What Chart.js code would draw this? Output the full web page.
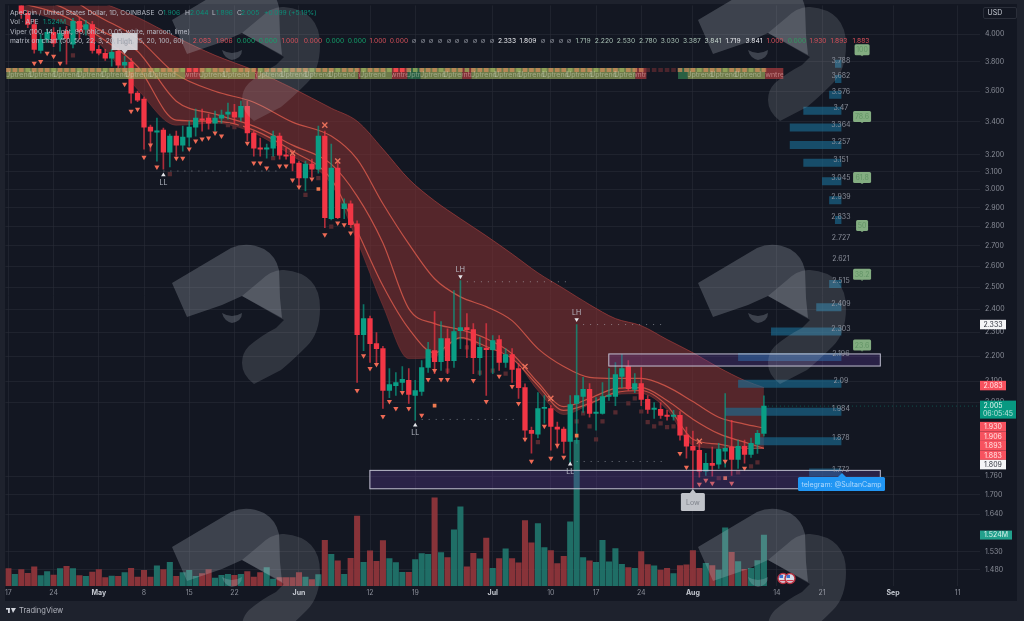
<!DOCTYPE html>
<html><head><meta charset="utf-8">
<style>html,body{margin:0;padding:0;background:#1e222d;overflow:hidden}canvas{display:block;filter:blur(0.45px)}</style>
<script src="https://cdn.jsdelivr.net/npm/chart.js@4/dist/chart.umd.min.js"></script>
</head><body><canvas id="c" width="1024" height="621"></canvas>
<script>
const candleOpen=[4.36,4.30,4.222,4.159,4.074,3.883,3.963,4.015,3.963,4.022,3.927,4.097,4.037,4.074,3.890,3.862,3.826,3.876,3.777,3.797,3.586,3.546,3.367,3.336,3.348,3.214,3.311,3.256,3.305,3.367,3.417,3.423,3.392,3.423,3.449,3.462,3.430,3.500,3.330,3.238,3.232,3.238,3.311,3.196,3.190,3.149,3.063,3.143,3.114,3.311,2.840,3.120,2.893,2.920,2.813,2.290,2.359,2.252,2.231,2.064,2.083,2.095,2.103,2.045,2.060,2.154,2.223,2.178,2.273,2.182,2.307,2.320,2.311,2.194,2.231,2.227,2.269,2.174,2.206,2.150,2.075,1.917,1.903,1.996,1.996,1.928,1.921,1.878,2.015,2.041,2.068,1.978,1.978,2.041,2.041,2.119,2.158,2.068,2.091,2.030,1.993,1.993,1.971,1.967,1.971,1.900,1.861,1.847,1.777,1.803,1.800,1.844,1.858,1.816,1.861,1.833,1.868,1.906];
const candleClose=[4.31,4.34,4.159,4.074,3.890,3.963,4.015,3.934,4.007,3.970,4.097,4.022,4.074,3.883,3.862,3.826,3.869,3.777,3.797,3.586,3.540,3.367,3.342,3.342,3.214,3.311,3.256,3.305,3.367,3.423,3.410,3.392,3.423,3.443,3.462,3.430,3.500,3.330,3.238,3.232,3.238,3.311,3.196,3.190,3.149,3.063,3.143,3.114,3.311,2.845,3.120,2.845,2.920,2.808,2.290,2.359,2.252,2.231,2.064,2.087,2.095,2.107,2.049,2.064,2.154,2.227,2.178,2.273,2.182,2.303,2.320,2.311,2.194,2.236,2.227,2.265,2.174,2.206,2.146,2.075,1.917,1.906,1.996,2.000,1.931,1.921,1.878,2.011,2.045,2.068,1.978,1.982,2.041,2.045,2.126,2.150,2.071,2.091,2.030,1.993,1.996,1.971,1.967,1.971,1.900,1.861,1.847,1.777,1.803,1.796,1.851,1.854,1.816,1.861,1.833,1.871,1.906,2.005];
const candleHigh=[4.41,4.38,4.26,4.18,4.112,4.000,4.04,4.05,4.052,4.06,4.12,4.128,4.105,4.097,3.92,3.89,3.89,3.90,3.840,3.826,3.60,3.560,3.38,3.423,3.361,3.323,3.342,3.373,3.404,3.481,3.481,3.449,3.468,3.475,3.520,3.513,3.533,3.533,3.342,3.299,3.262,3.342,3.330,3.238,3.220,3.161,3.161,3.172,3.373,3.342,3.262,3.167,2.947,2.936,2.829,2.421,2.37,2.298,2.24,2.150,2.134,2.158,2.150,2.103,2.182,2.257,2.390,2.346,2.315,2.485,2.531,2.381,2.337,2.277,2.337,2.286,2.286,2.231,2.231,2.170,2.09,1.928,2.056,2.045,2.007,1.946,1.928,2.045,2.333,2.115,2.091,2.037,2.095,2.150,2.174,2.206,2.182,2.130,2.154,2.045,2.018,2.018,1.989,1.989,1.985,1.928,1.914,1.875,1.837,1.858,1.871,2.052,1.953,1.882,1.882,1.889,1.917,2.044];
const candleLow=[4.30,4.27,4.12,4.05,3.862,3.862,3.94,3.91,3.876,3.784,3.90,3.963,3.993,3.862,3.85,3.81,3.770,3.76,3.735,3.520,3.53,3.232,3.220,3.161,3.114,3.126,3.190,3.220,3.250,3.311,3.342,3.354,3.342,3.392,3.417,3.392,3.404,3.281,3.190,3.190,3.178,3.190,3.172,3.172,3.103,3.018,2.990,3.069,3.091,2.793,2.834,2.840,2.840,2.793,2.095,2.223,2.174,2.170,1.996,2.037,2.045,2.064,2.015,1.953,2.045,2.134,2.130,2.142,2.130,2.154,2.231,2.194,2.130,2.123,2.045,2.130,2.142,2.154,2.095,2.034,1.882,1.837,1.89,1.942,1.847,1.854,1.837,1.806,1.871,1.982,1.964,1.917,1.975,2.026,2.007,2.075,2.064,2.056,2.007,1.978,1.960,1.960,1.953,1.953,1.882,1.820,1.721,1.757,1.763,1.760,1.786,1.790,1.763,1.786,1.803,1.823,1.836,1.896];
const volumes=[.52,.35,.49,.38,.57,.31,.43,.33,.52,.59,.52,.31,.29,.42,.49,.25,.30,.29,.40,.53,.27,.47,.27,.60,.49,.71,.29,.40,.47,.29,.37,.49,.24,.32,.35,.32,.35,.43,.27,.40,.55,.21,.25,.25,.25,.40,.27,.19,.34,1.37,.95,.75,.35,.83,2.09,.71,1.05,.74,1.36,.82,.70,.41,.41,.79,.97,.95,2.64,1.0,.85,1.68,2.37,.57,.98,.81,1.43,.53,.82,1.11,.82,.69,1.96,1.29,1.87,1.15,1.06,.67,.89,1.92,4.36,.85,.75,.71,1.37,.72,1.12,.65,.55,.53,1.03,.64,.60,.48,.53,.37,.61,.63,1.06,.53,.68,.61,.48,1.74,1.01,.73,.50,.53,.76,1.524];

const ribbonDays=[2,8,14,20,26,32,38,44,50,54,58,62,66,70,74,78,82,86,90,94,98,102,106,110,114,117];
const ribbonUpper=[4.495,4.364,4.252,4.128,3.978,3.847,3.742,3.619,3.487,3.404,3.232,3.057,2.936,2.840,2.751,2.660,2.568,2.494,2.421,2.359,2.328,2.269,2.214,2.154,2.103,2.075];
const ribbonA=[4.396,4.316,4.135,3.970,3.714,3.599,3.526,3.398,3.311,3.172,2.920,2.710,2.540,2.456,2.412,2.350,2.231,2.158,2.115,2.111,2.111,2.079,2.022,1.964,1.939,1.925];
const ribbonB=[4.292,4.213,4.037,3.876,3.533,3.449,3.373,3.256,3.143,2.962,2.715,2.403,2.337,2.311,2.273,2.210,2.095,2.003,2.034,2.071,2.075,2.026,1.957,1.905,1.875,1.854];
const ribbonC=[4.236,4.151,3.985,3.768,3.411,3.404,3.348,3.220,3.057,2.777,2.507,2.315,2.214,2.277,2.240,2.190,2.083,1.989,2.015,2.056,2.064,2.007,1.885,1.868,1.854,1.854];
const ribbonLower=[4.190,4.097,3.934,3.612,3.379,3.392,3.330,3.190,3.029,2.726,2.416,2.190,2.198,2.273,2.231,2.198,2.064,1.974,2.011,2.049,2.052,1.992,1.864,1.854,1.861,1.854];

const triDays=[4,5,6,7,8,18,19,20,21,22,23,26,27,28,29,30,31,32,33,37,38,39,40,42,43,44,45,47,49,51,52,53,54,55,56,57,58,59,60,61,62,64,65,66,67,68,72,74,76,78,79,80,81,83,84,85,86,104,105,107,108,109,111,112,114];
const triPrices=[3.791,3.804,3.862,3.840,3.791,3.646,3.468,3.481,3.184,3.256,3.126,3.178,3.178,3.232,3.281,3.293,3.299,3.330,3.311,3.268,3.149,3.149,3.120,3.132,3.132,3.052,3.012,3.057,2.756,2.818,2.808,2.766,2.064,2.202,2.150,2.166,1.967,2.022,1.996,2.056,1.996,1.971,2.107,2.142,2.107,2.107,2.103,2.022,2.119,2.079,2.015,1.885,1.810,1.931,1.820,1.864,1.823,1.836,1.790,1.734,1.747,1.737,1.810,1.737,1.786];
const squareDays=[10,25,34,35,36,41,46,48,50,68,71,73,75,77,82,88,89,90,91,92,94,96,97,98,99,100,101,102,103,110,113,115,116];
const squarePrices=[3.847,3.085,3.379,3.367,3.379,3.178,2.968,3.063,2.798,2.142,2.236,2.134,2.142,2.130,1.875,1.949,1.978,1.931,1.885,1.949,1.982,2.015,2.034,1.985,1.946,1.931,1.942,1.928,1.931,1.754,1.773,1.793,1.806];
const flagDays=[48,66,88,111];
const flagPrices=[3.001,2.007,1.898,1.754];
const crossDays=[44,49,51,80,84,107];
const crossPrices=[3.208,3.379,3.161,2.158,2.034,1.878];

const levelPrices=[3.788,3.682,3.576,3.47,3.364,3.257,3.151,3.045,2.939,2.833,2.727,2.621,2.515,2.409,2.303,2.196,2.09,1.984,1.878,1.772];
const levelStartDays=[128,128,127.1,123.1,121,121,123.1,126,127.1,128,null,null,127.1,125.1,118.1,113,113,111,116.1,124];
const levelEndDay=129;

const pivotDays=[24,63,87,70,88];
const pivotArrowPrices=[3.08,1.935,1.80,2.55,2.355];
const pivotLabels=['LL','LL','LL','LH','LH'];
const pivotDir=['up','up','up','down','down'];
const dotLineDays=[[24,42],[71,87],[64,79],[89,102],[88,102]];
const dotLinePrices=[3.103,2.526,1.956,2.333,1.809];

const fibLabels=['100','78.6','61.8','50','38.2','23.6'];
const fibPrices=[3.84,3.392,3.029,2.771,2.531,2.219];
const fibDay=132.2;

const boxDays=[[92.9,135.1],[55.9,135.1]];
const boxPrices=[[2.211,2.158],[1.781,1.718]];

const priceTicks=[4,3.8,3.6,3.4,3.2,3.1,3,2.9,2.8,2.7,2.6,2.5,2.4,2.3,2.2,2.1,2.02,1.76,1.7,1.64,1.53,1.48];
const timeTickDays=[0,7,14,21,28,35,45,56,63,75,84,91,98,106,119,126,137,147];
const timeTickLabels=['17','24','May','8','15','22','Jun','12','19','Jul','10','17','24','Aug','14','21','Sep','11'];
const monthTicks=['May','Jun','Jul','Aug','Sep'];

const tagValues=[2.333,2.083,2.005,1.93,1.906,1.893,1.883,1.809];
const tagKinds=['w','r','g','r','r','r','r','w'];
const trendStart=[-0.3,27.4,29.7,38.2,38.6,54.2,54.5,59.4,61.8,63.8,70.3,71.7,97.1,103.7,105.2,117.2];
const trendEnd=[27.4,29.7,38.2,38.6,54.2,54.5,59.4,61.8,63.8,70.3,71.7,97.1,98.8,105.2,117.2,120];
const trendKinds=['u','d','u','d','u','d','u','d','g','u','d','u','d','g','u','d'];

const header1=[['ApeCoin / United States Dollar, 1D, COINBASE',10,'#b8bcc6'],['O',158,'#b8bcc6'],['1.906',163,'#0b8f79'],['H',185,'#b8bcc6'],['2.044',190,'#0b8f79'],['L',212,'#b8bcc6'],['1.896',216,'#0b8f79'],['C',237,'#b8bcc6'],['2.005',241,'#0b8f79'],['+0.099 (+5.19%)',264,'#0b8f79']];
const header2=[['Vol · APE',10,'#b8bcc6'],['1.524M',43,'#0b8f79']];
const header3='Viper (100, 14, right, 90, ohlc4, 0.05, white, maroon, lime)';
const header4='matrix on chart (50, 50, 22, 3, 20, High, 15, 20, 100, 60)';
const indicatorValues=['2.083','1.906','0.000','0.000','1.000','0.000','0.000','0.000','1.000','0.000','∅','∅','∅','∅','∅','∅','∅','∅','∅','∅','2.333','1.809','∅','∅','∅','∅','1.719','2.220','2.530','2.780','3.030','3.387','3.841','1.719','3.841','1.000','0.000','1.930','1.893','1.883'];
const indicatorX=[202,224,246,268,290,313,335,357,378,399,414,423,431,440,449,457,466,475,483,492,507,528,543,552,561,569,583,604,626,648,670,692,713,733,754,775,797,818,839,861];
const indicatorColors=['#d8505a','#d8505a','#12a36b','#12a36b','#d8505a','#d8505a','#12a36b','#12a36b','#d8505a','#d8505a','#8a8e98','#8a8e98','#8a8e98','#8a8e98','#8a8e98','#8a8e98','#8a8e98','#8a8e98','#8a8e98','#8a8e98','#e8eaee','#e8eaee','#8a8e98','#8a8e98','#8a8e98','#8a8e98','#a8c0b4','#a8c0b4','#a8c0b4','#a8c0b4','#a8c0b4','#a8c0b4','#c4d4cc','#e8eaee','#e8eaee','#d8505a','#2e9c5e','#d8505a','#d8505a','#d8505a'];

const FONT='Inter, "Liberation Sans", sans-serif';
const FS=7;
const days=candleOpen.map((_,i)=>i);
const UP='#0a9e85',DN='#f23645';
const isUp=i=>candleClose[i]>=candleOpen[i];
const pts=(xs,ys)=>xs.map((x,i)=>({x,y:ys[i]}));
const levelData=[];
levelPrices.forEach((p,i)=>{if(levelStartDays[i]!==null){levelData.push({x:levelStartDays[i],y:p},{x:levelEndDay,y:p},{x:levelEndDay,y:null});}});
const dotData=[];
dotLinePrices.forEach((p,i)=>{dotData.push({x:dotLineDays[i][0],y:p},{x:dotLineDays[i][1],y:p},{x:dotLineDays[i][1],y:null});});

const ribbonLine=(data,color,width,order,extra)=>Object.assign({type:'line',data,borderColor:color,borderWidth:width,pointRadius:0,cubicInterpolationMode:'monotone',fill:false,order,xAxisID:'x',yAxisID:'y'},extra||{});
const scatter=(data,o)=>Object.assign({type:'line',data,showLine:false,xAxisID:'x',yAxisID:'y',order:3,fill:false},o);

const datasets=[
 {type:'bar',label:'Vol',data:pts(days,volumes),yAxisID:'v',xAxisID:'x',grouped:false,barThickness:5.4,backgroundColor:days.map(i=>isUp(i)?'rgba(33,118,108,0.92)':'rgba(146,54,60,0.92)'),order:40},
 ribbonLine(pts(ribbonDays,ribbonUpper),'rgba(190,70,65,0.55)',1,30,{fill:{target:5},backgroundColor:'rgba(132,50,50,0.58)'}),
 ribbonLine(pts(ribbonDays,ribbonA),'rgba(214,88,74,0.85)',1.2,29),
 ribbonLine(pts(ribbonDays,ribbonB),'rgba(214,88,74,0.85)',1.2,29),
 ribbonLine(pts(ribbonDays,ribbonC),'rgba(214,88,74,0.85)',1.2,29),
 ribbonLine(pts(ribbonDays,ribbonLower),'rgba(190,70,65,0.35)',1,30),
 {type:'line',data:levelData,borderColor:'rgba(26,112,150,0.62)',borderWidth:8,pointRadius:0,fill:false,order:20,xAxisID:'x',yAxisID:'y'},
 {type:'line',data:dotData,borderColor:'rgba(190,194,204,0.55)',borderWidth:1,borderDash:[1,6],pointRadius:0,fill:false,order:19,xAxisID:'x',yAxisID:'y'},
 {type:'line',data:[{x:117,y:2.005},{x:150.4,y:2.005}],borderColor:'rgba(10,158,133,0.45)',borderWidth:1,borderDash:[1,3],pointRadius:0,fill:false,order:19,xAxisID:'x',yAxisID:'y'},
 {type:'bar',label:'wick',data:days.map(i=>({x:i,y:[candleLow[i],candleHigh[i]]})),grouped:false,barThickness:1,minBarLength:1,backgroundColor:days.map(i=>isUp(i)?'rgba(10,158,133,0.7)':'rgba(242,54,69,0.7)'),order:6,xAxisID:'x',yAxisID:'y'},
 {type:'bar',label:'body',data:days.map(i=>({x:i,y:[candleOpen[i],candleClose[i]]})),grouped:false,barThickness:4.6,minBarLength:1.3,backgroundColor:days.map(i=>isUp(i)?UP:DN),order:5,xAxisID:'x',yAxisID:'y'},
 scatter(pts(squareDays,squarePrices),{pointStyle:'rect',pointRadius:3,pointBackgroundColor:'rgb(84,42,48)',pointBorderWidth:0,order:8}),
 scatter(pts(triDays,triPrices),{pointStyle:'triangle',pointRotation:180,pointRadius:3,pointBackgroundColor:'#ee6a55',pointBorderWidth:0}),
 scatter(pts(flagDays,flagPrices),{pointStyle:'rect',pointRadius:2.6,pointBackgroundColor:'#ee7a50',pointBorderWidth:0}),
 scatter(pts(crossDays,crossPrices),{pointStyle:'crossRot',pointRadius:3.6,pointBorderColor:'#e9705a',pointBorderWidth:1.4}),
 scatter(pts(pivotDays,pivotArrowPrices),{pointStyle:'triangle',pointRotation:pivotDir.map(d=>d==='down'?180:0),pointRadius:2.6,pointBackgroundColor:'#e6e8ec',pointBorderWidth:0,order:2})
];

function roundBox(ctx,x,y,w,h,r){ctx.beginPath();ctx.roundRect(x,y,w,h,r);}
function watermark(ctx,cx,cy){
 ctx.save();ctx.translate(cx,cy);
 ctx.fillStyle='rgba(205,210,220,0.23)';
 ctx.beginPath();ctx.moveTo(0,0);ctx.lineTo(59,-35);ctx.quadraticCurveTo(75,-42,92,-34);ctx.quadraticCurveTo(104,-27,107,-13);ctx.lineTo(108,15);ctx.lineTo(110,35);ctx.lineTo(70,13);ctx.lineTo(50,22);ctx.lineTo(15,34);ctx.closePath();ctx.fill();
 ctx.beginPath();ctx.moveTo(50,30);ctx.quadraticCurveTo(60,36,70,30);ctx.quadraticCurveTo(70,38,60,40);ctx.quadraticCurveTo(52,38,50,30);ctx.fill();
 ctx.fillStyle='rgba(205,210,220,0.16)';
 ctx.beginPath();ctx.moveTo(88,-2);ctx.quadraticCurveTo(100,-14,112,-13);ctx.quadraticCurveTo(148,-10,148,25);ctx.quadraticCurveTo(148,50,135,63);ctx.quadraticCurveTo(120,78,109,87);ctx.lineTo(82,101);ctx.quadraticCurveTo(70,92,70,80);ctx.quadraticCurveTo(70,70,77,63);ctx.quadraticCurveTo(90,52,104,45);ctx.lineTo(112,37);ctx.lineTo(70,13);ctx.closePath();ctx.fill();
 ctx.restore();
}
const overlay={id:'overlay',
 beforeDraw(chart){
  const c=chart.ctx;c.save();c.fillStyle='#1e222d';c.fillRect(0,0,1024,621);c.fillStyle='#131722';c.fillRect(5,4,1012,597);c.restore();
 },
 afterDatasetsDraw(chart){
  const c=chart.ctx,X=chart.scales.x,Y=chart.scales.y,V=chart.scales.v;
  const px=d=>X.getPixelForValue(d),py=p=>Y.getPixelForValue(p);
  c.save();
  boxDays.forEach((b,i)=>{const x0=px(b[0]),x1=px(b[1]),y0=py(boxPrices[i][0]),y1=py(boxPrices[i][1]);
   c.fillStyle='rgba(104,66,170,0.28)';c.fillRect(x0,y0,x1-x0,y1-y0);
   c.strokeStyle='rgba(214,216,226,0.85)';c.lineWidth=1;c.strokeRect(x0+.5,y0+.5,x1-x0-1,y1-y0-1);});
  const bandTop=68,bandH=11;
  const fill={u:'rgba(158,176,96,0.66)',d:'rgba(170,60,62,0.72)',g:'rgba(50,125,80,0.72)'};
  c.font=FS+'px '+FONT;c.textAlign='center';c.textBaseline='middle';
  trendKinds.forEach((k,i)=>{const x0=px(trendStart[i]),x1=px(trendEnd[i]);
   c.fillStyle=fill[k];c.fillRect(x0,bandTop,x1-x0,bandH);});
  for(let d=0;d<118;d++){
   if(d>98&&d<104){c.fillStyle='rgba(120,48,52,0.55)';}
   else if(d===28||d===29||d===60||d===61){c.fillStyle='#f0454a';}
   else c.fillStyle=(d%4===3)?'rgba(150,170,90,0.8)':'rgba(210,140,90,0.72)';
   c.fillRect(px(d)-2.3,bandTop,4.6,4);
  }
  trendKinds.forEach((k,i)=>{const x0=px(trendStart[i]),x1=px(trendEnd[i]);
   c.save();c.beginPath();c.rect(x0,bandTop,x1-x0,bandH);c.clip();
   c.fillStyle=k==='d'?'rgba(240,190,190,0.55)':'rgba(232,236,215,0.42)';
   const txt=k==='d'?'Downtrend':'Uptrend';
   if(k==='d'){c.fillText(txt,(x0+x1)/2,bandTop+6.5);}
   else for(let x=x0+12;x<x1;x+=24)c.fillText(txt,x,bandTop+6.5);
   c.restore();});
  [[172,20],[698,20],[172,283],[698,283],[172,547],[698,547]].forEach(w=>watermark(c,w[0],w[1]));
  c.font=FS+'px '+FONT;c.textAlign='center';c.textBaseline='alphabetic';
  c.fillStyle='rgba(150,154,165,0.9)';
  levelPrices.forEach(p=>c.fillText(String(p),px(levelEndDay)-0.5,py(p)-1));
  fibLabels.forEach((t,i)=>{const cx=px(fibDay),tip=py(fibPrices[i]);const w=t.length>3?18:(t.length>2?15:12);
   c.fillStyle='rgba(156,206,150,0.82)';roundBox(c,cx-w/2,tip-12,w,11,1.5);c.fill();
   c.beginPath();c.moveTo(cx-1.5,tip-1);c.lineTo(cx+1.5,tip-1);c.lineTo(cx,tip);c.fill();
   c.fillStyle='rgba(96,146,100,0.95)';c.textAlign='center';c.fillText(t,cx,tip-4);});
  c.fillStyle='rgba(190,194,204,0.95)';
  pivotLabels.forEach((t,i)=>{const dy=pivotDir[i]==='up'?10:-4.5;c.fillText(t,px(pivotDays[i]),py(pivotArrowPrices[i])+dy);});
  const hx=px(18),hy=50;
  c.fillStyle='rgba(218,220,226,0.92)';c.fillRect(hx-13,33,26,17);
  c.beginPath();c.moveTo(hx-3,hy);c.lineTo(hx+3,hy);c.lineTo(hx,hy+4);c.fill();
  c.fillStyle='#8f939c';c.fillText('High',hx,44);
  const lx=px(106);
  c.fillStyle='rgba(212,214,220,0.9)';roundBox(c,lx-12,493,24,18,1.5);c.fill();
  c.beginPath();c.moveTo(lx-3,493);c.lineTo(lx+3,493);c.lineTo(lx,489);c.fill();
  c.fillStyle='#7d818a';c.fillText('Low',lx,505);
  c.fillStyle='#2196f3';roundBox(c,798,477,87,14,1.5);c.fill();
  c.beginPath();c.moveTo(838,477);c.lineTo(846,477);c.lineTo(842,473);c.fill();
  c.fillStyle='rgba(225,240,255,0.72)';c.fillText('telegram: @SultanCamp',841.5,486.5);
  [783,790].forEach(x=>{c.beginPath();c.arc(x,578.5,5,0,Math.PI*2);c.fillStyle='#d8dce6';c.fill();c.lineWidth=1.4;c.strokeStyle='#b83040';c.stroke();c.fillStyle='#3b6fd0';c.fillRect(x-3.5,575,3.5,3);c.fillStyle='#d04050';c.fillRect(x-3.5,580,7,1.2);});
  c.textAlign='center';c.textBaseline='middle';
  let last=-100;
  tagValues.forEach((v,i)=>{const k=tagKinds[i];let y=py(v);
   if(k==='g'){c.fillStyle='#089981';c.fillRect(980,y-5.5,36,18);c.fillStyle='#e6f5f1';c.fillText(v.toFixed(3),993,y-0.5);c.fillStyle='rgba(220,240,235,0.85)';c.fillText('06:05:45',998,y+7.5);last=y+12.5;return;}
   if(y-4.75<last)y=last+4.75;
   c.fillStyle=k==='w'?'#f4f5f7':'#f7525f';c.fillRect(980,y-4.75,26,9.5);
   c.fillStyle=k==='w'?'#30343e':'#ffe6e6';c.fillText(v.toFixed(3),993,y+.3);last=y+4.75;});
  const vy=V.getPixelForValue(volumes[volumes.length-1]);
  c.fillStyle='#22a08c';c.fillRect(980,vy-4.5,32,9);c.fillStyle='#d9f2ec';c.fillText('1.524M',996,vy+.3);
  c.strokeStyle='#2a2e39';c.lineWidth=1;roundBox(c,983.5,7.5,33,11,1.5);c.stroke();
  c.fillStyle='#c8ccd4';c.fillText('USD',995,13.3);
  c.font='6.7px '+FONT;c.textBaseline='middle';c.textAlign='left';
  header1.forEach(h=>{c.fillStyle=h[2];c.fillText(h[0],h[1],12.7);});
  header2.forEach(h=>{c.fillStyle=h[2];c.fillText(h[0],h[1],22.3);});
  c.fillStyle='#b8bcc6';c.fillText(header3,10,31.8);c.fillText(header4,10,41.3);
  c.textAlign='center';
  indicatorValues.forEach((t,i)=>{c.fillStyle=indicatorColors[i];c.fillText(t,indicatorX[i],41.3);});
  c.fillStyle='#d1d4dc';c.fillRect(6,608,4,1.6);c.fillRect(8,608,1.8,5);c.beginPath();c.moveTo(11,608);c.lineTo(16,608);c.lineTo(13,613);c.fill();
  c.textAlign='left';c.fillStyle='#b2b5be';c.font='7.5px '+FONT;c.fillText('TradingView',19,611);
  c.restore();
 }
};
new Chart(document.getElementById('c'),{
 data:{datasets},
 plugins:[overlay],
 options:{
  responsive:false,animation:false,devicePixelRatio:1,events:[],
  layout:{padding:{left:5,top:4,right:7,bottom:20}},
  plugins:{legend:{display:false},tooltip:{enabled:false}},
  scales:{
   x:{type:'linear',position:'bottom',min:-0.464,max:150.46,offset:false,
    afterBuildTicks(s){s.ticks=timeTickDays.map(v=>({value:v}));},
    afterFit(s){s.height=15;s.paddingLeft=0;s.paddingRight=0;},
    grid:{color:'rgba(42,46,57,0.55)',drawTicks:false,offset:false},border:{display:false},
    ticks:{autoSkip:false,maxRotation:0,padding:3,
     color:(ctx)=>monthTicks.includes(timeTickLabels[ctx.index])?'#c4c8d0':'#8a8e98',
     font:(ctx)=>({family:FONT,size:FS,weight:monthTicks.includes(timeTickLabels[ctx.index])?'700':'400'}),
     callback:(v)=>timeTickLabels[timeTickDays.indexOf(v)]}},
   y:{type:'logarithmic',position:'right',min:1.4354,max:4.2209,
    afterBuildTicks(s){s.ticks=priceTicks.map(v=>({value:v}));},
    afterFit(s){s.width=37;s.paddingTop=0;s.paddingBottom=0;},
    grid:{color:'rgba(42,46,57,0.55)',drawTicks:false},border:{display:false},
    ticks:{autoSkip:false,padding:5,color:'#8a8e98',font:{family:FONT,size:FS},callback:v=>Number(v).toFixed(3)}},
   v:{type:'linear',display:false,min:0,max:17.37}
  }
 }
});
</script></body></html>
